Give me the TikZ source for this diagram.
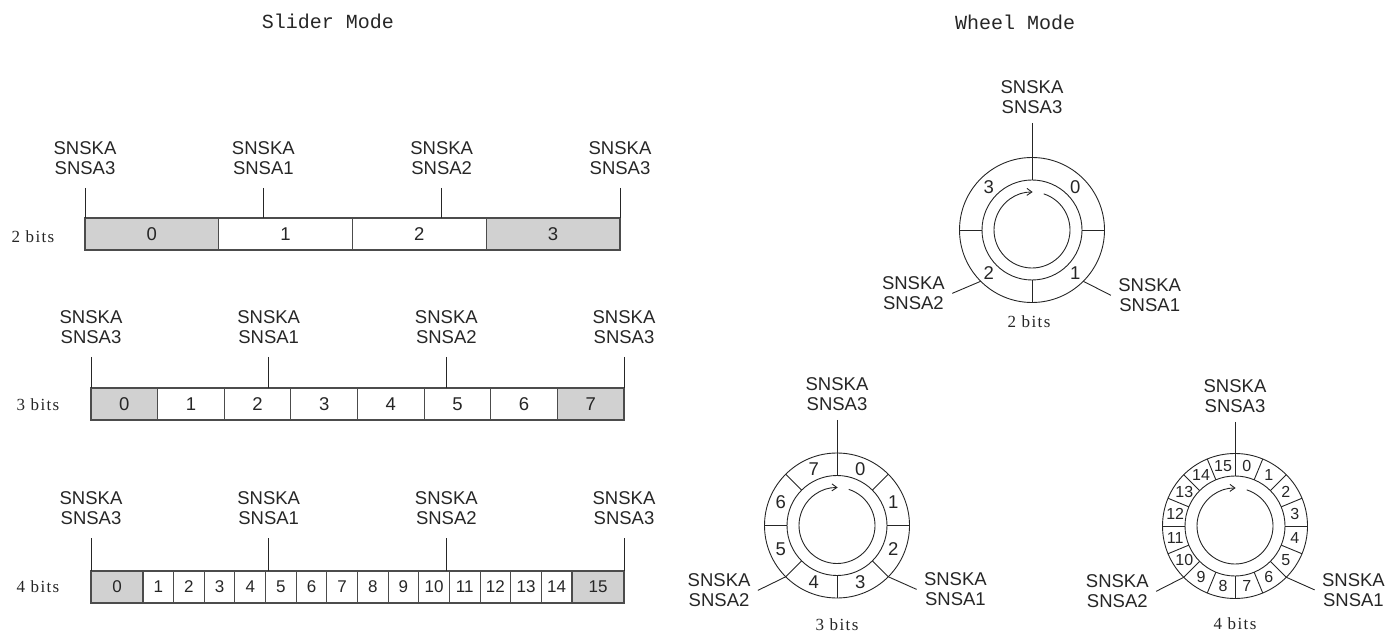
\documentclass[tikz,border=0pt]{standalone}
\usepackage{fontspec}
\setmainfont{Liberation Sans}
\newfontfamily\titlefont{Liberation Mono}
\newfontfamily\bitsfont[LetterSpace=8]{Liberation Serif}
\usetikzlibrary{arrows.meta,positioning}

\tikzset{
  snsk/.style={align=center,inner sep=3pt,font=\fontsize{18.5}{20}\selectfont},
  cell/.style={draw=black!70,line width=1.1pt,minimum height=32,inner sep=0pt,
               outer sep=0pt,font=\fontsize{18.5}{20}\selectfont},
  endcell/.style={cell,fill=black!18},
  narrow/.style={cell,minimum width=30.64,font=\fontsize{17}{18}\selectfont},
  bits/.style={font=\bitsfont\fontsize{17}{18}\selectfont},
  title/.style={font=\titlefont\fontsize{20}{22}\selectfont},
  wnum/.style={inner sep=0pt,font=\fontsize{18.5}{20}\selectfont},
  wsmall/.style={inner sep=0pt,font=\fontsize{16}{18}\selectfont}
}

\begin{document}
\begin{tikzpicture}[x=1pt,y=1pt,line width=0.9pt,color=black!85,
                    >={Straight Barb[length=5pt,width=7pt]}]
  \useasboundingbox (0,0) rectangle (1391,632);

  \node[title] (slidertitle) at (328,611) {Slider Mode};
  \node[title] (wheeltitle)  at (1015,610) {Wheel Mode};

  % slider, 2 bits
  \node[endcell,minimum width=133.75] (a0) at (151.88,398) {0};
  \node[cell,minimum width=133.75]    (a1) at (285.63,398) {1};
  \node[cell,minimum width=133.75]    (a2) at (419.38,398) {2};
  \node[endcell,minimum width=133.75] (a3) at (553.13,398) {3};
  \node[bits] (abits) at (33,395) {2 bits};
  \foreach \x/\s [count=\k] in {85/3,263.33/1,441.67/2,620/3}{
    \coordinate (at\k) at (\x,444);
    \node[snsk,above=10pt of at\k] (al\k) {SNSKA\\SNSA\s};
    \draw (at\k) -- (at\k |- a0.north);
  }

  % slider, 3 bits
  \node[endcell,minimum width=66.63] (b0) at (124.31,228) {0};
  \foreach \i in {1,...,6}
    \node[cell,minimum width=66.63] (b\i) at ({124.31+66.625*\i},228) {\i};
  \node[endcell,minimum width=66.63] (b7) at (590.69,228) {7};
  \node[bits] (bbits) at (38,227) {3 bits};
  \foreach \x/\s [count=\k] in {91/3,268.67/1,446.33/2,624/3}{
    \coordinate (bt\k) at (\x,275);
    \node[snsk,above=10pt of bt\k] (bl\k) {SNSKA\\SNSA\s};
    \draw (bt\k) -- (bt\k |- b0.north);
  }

  % slider, 4 bits
  \node[endcell,minimum width=52,font=\fontsize{17}{18}\selectfont] (c0) at (117,45) {0};
  \foreach \i in {1,...,14}
    \node[narrow] (c\i) at ({127.68+30.643*\i},45) {\i};
  \node[endcell,minimum width=52,font=\fontsize{17}{18}\selectfont] (c15) at (598,45) {15};
  \node[bits] (cbits) at (38,45) {4 bits};
  \foreach \x/\s [count=\k] in {91/3,268.67/1,446.33/2,624/3}{
    \coordinate (ct\k) at (\x,94);
    \node[snsk,above=10pt of ct\k] (cl\k) {SNSKA\\SNSA\s};
    \draw (ct\k) -- (ct\k |- c0.north);
  }

  % wheel, 2 bits
  \coordinate (w2) at (1032,402);
  \draw (w2) circle[radius=72.5] (w2) circle[radius=50];
  \draw[->] ([shift={(72:38)}]w2) arc[start angle=72,end angle=-271,radius=38];
  \foreach \a in {0,90,180,270}
    \draw ([shift={(\a:50)}]w2) -- ([shift={(\a:72.5)}]w2);
  \foreach \n in {0,...,3}
    \node[wnum] (w2n\n) at ([shift={({45-90*\n}:61)}]w2) {\n};
  \coordinate (w2t) at (1032,509);
  \draw (w2t) -- ([shift={(90:72.5)}]w2);
  \node[snsk,above=6pt of w2t] (w2top) {SNSKA\\SNSA3};
  \coordinate (w2a) at ([shift={(225:72.5)}]w2);
  \coordinate (w2b) at ([shift={(203:31)}]w2a);
  \draw (w2a) -- (w2b);
  \node[snsk,left=4pt of w2b] (w2left) {SNSKA\\SNSA2};
  \coordinate (w2c) at ([shift={(-45:72.5)}]w2);
  \coordinate (w2d) at ([shift={(-27:31)}]w2c);
  \draw (w2c) -- (w2d);
  \node[snsk,right=4pt of w2d] (w2right) {SNSKA\\SNSA1};
  \node[bits] (w2bits) at (1029,310) {2 bits};

  % wheel, 3 bits
  \coordinate (w3) at (837,106.5);
  \draw (w3) circle[radius=72.5] (w3) circle[radius=50];
  \draw[->] ([shift={(72:38)}]w3) arc[start angle=72,end angle=-271,radius=38];
  \foreach \k in {0,...,7}
    \draw ([shift={({90-45*\k}:50)}]w3) -- ([shift={({90-45*\k}:72.5)}]w3);
  \foreach \n in {0,...,7}
    \node[wnum] (w3n\n) at ([shift={({67.5-45*\n}:61)}]w3) {\n};
  \coordinate (w3t) at (837,212);
  \draw (w3t) -- ([shift={(90:72.5)}]w3);
  \node[snsk,above=6pt of w3t] (w3top) {SNSKA\\SNSA3};
  \coordinate (w3a) at ([shift={(225:72.5)}]w3);
  \coordinate (w3b) at ([shift={(206:31)}]w3a);
  \draw (w3a) -- (w3b);
  \node[snsk,left=4pt of w3b] (w3left) {SNSKA\\SNSA2};
  \coordinate (w3c) at ([shift={(-45:72.5)}]w3);
  \coordinate (w3d) at ([shift={(-24:31)}]w3c);
  \draw (w3c) -- (w3d);
  \node[snsk,right=4pt of w3d] (w3right) {SNSKA\\SNSA1};
  \node[bits] (w3bits) at (837,7) {3 bits};

  % wheel, 4 bits
  \coordinate (w4) at (1235,106);
  \draw (w4) circle[radius=72.5] (w4) circle[radius=50];
  \draw[->] ([shift={(72:38)}]w4) arc[start angle=72,end angle=-271,radius=38];
  \foreach \k in {0,...,15}
    \draw ([shift={({90-22.5*\k}:50)}]w4) -- ([shift={({90-22.5*\k}:72.5)}]w4);
  \foreach \n in {0,...,15}
    \node[wsmall] (w4n\n) at ([shift={({78.75-22.5*\n}:61)}]w4) {\n};
  \coordinate (w4t) at (1235,210);
  \draw (w4t) -- ([shift={(90:72.5)}]w4);
  \node[snsk,above=6pt of w4t] (w4top) {SNSKA\\SNSA3};
  \coordinate (w4a) at ([shift={(225:72.5)}]w4);
  \coordinate (w4b) at ([shift={(207:31)}]w4a);
  \draw (w4a) -- (w4b);
  \node[snsk,left=4pt of w4b] (w4left) {SNSKA\\SNSA2};
  \coordinate (w4c) at ([shift={(-45:72.5)}]w4);
  \coordinate (w4d) at ([shift={(-24:31)}]w4c);
  \draw (w4c) -- (w4d);
  \node[snsk,right=4pt of w4d] (w4right) {SNSKA\\SNSA1};
  \node[bits] (w4bits) at (1235,8) {4 bits};
\end{tikzpicture}
\end{document}
